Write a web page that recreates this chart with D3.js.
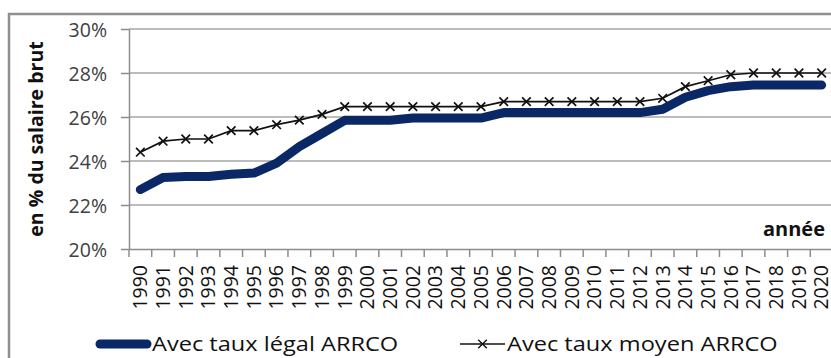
<!DOCTYPE html>
<html>
<head>
<meta charset="utf-8">
<script src="https://cdn.jsdelivr.net/npm/d3@7"></script>
<style>
  body { margin: 0; background: #fff; }
  svg { display: block; font-family: "Open Sans", sans-serif; }
</style>
</head>
<body>
<div id="chart"></div>
<script>
// Data (en % du salaire brut)
const years = ['1990','1991','1992','1993','1994','1995','1996','1997','1998','1999',
  '2000','2001','2002','2003','2004','2005','2006','2007','2008','2009',
  '2010','2011','2012','2013','2014','2015','2016','2017','2018','2019','2020'];
const tauxLegal = [22.7, 23.25, 23.3, 23.3, 23.4, 23.45, 23.9, 24.65, 25.25, 25.85,
  25.85, 25.85, 25.95, 25.95, 25.95, 25.95, 26.2, 26.2, 26.2, 26.2,
  26.2, 26.2, 26.2, 26.35, 26.9, 27.2, 27.38, 27.45, 27.45, 27.45, 27.45];
const tauxMoyen = [24.4, 24.9, 25.0, 25.0, 25.38, 25.38, 25.65, 25.86, 26.12, 26.47,
  26.47, 26.47, 26.47, 26.47, 26.47, 26.47, 26.7, 26.7, 26.7, 26.7,
  26.7, 26.7, 26.7, 26.85, 27.38, 27.65, 27.92, 28.0, 28.0, 28.0, 28.0];
const yTicks = [20, 22, 24, 26, 28, 30];
const seriesNames = ['Avec taux légal ARRCO', 'Avec taux moyen ARRCO'];

const W = 831, H = 358;
const plot = {left: 129, top: 29, bottom: 249, right: 833};
const blue = '#0a2766';

const svg = d3.select('#chart').append('svg')
    .attr('width', W)
    .attr('height', H);

// outer frame
svg.append('rect')
    .attr('x', 9).attr('y', 14)
    .attr('width', 900).attr('height', 400)
    .attr('fill', 'none')
    .attr('stroke', '#8f8f8f')
    .attr('stroke-width', 2.5);

//Scales
let xScale = d3.scaleBand()
    .domain(years)
    .range([plot.left, plot.right])
    .paddingInner(0).paddingOuter(0);

let yScale = d3.scaleLinear()
    .domain([20, 30])
    .range([plot.bottom, plot.top]);

let xc = function(d) { return xScale(d) + xScale.bandwidth() / 2; };

// gridlines
svg.append('g')
    .selectAll('line')
    .data(yTicks.slice(1))
    .enter().append('line')
    .attr('x1', plot.left).attr('x2', W)
    .attr('y1', d => yScale(d)).attr('y2', d => yScale(d))
    .attr('stroke', '#a6a6a6')
    .attr('stroke-width', 1.5);

// y axis
let yAxis = svg.append('g')
    .attr('transform', 'translate(' + plot.left + ',0)')
    .call(d3.axisLeft(yScale).tickValues(yTicks).tickSize(8).tickSizeOuter(0)
        .tickFormat(d => d + '%'));
yAxis.select('.domain').attr('stroke', '#8c8c8c').attr('stroke-width', 1.5);
yAxis.selectAll('.tick line').attr('stroke', '#8c8c8c').attr('stroke-width', 1.5);
yAxis.selectAll('.tick text')
    .attr('x', -22)
    .attr('dy', '0.36em')
    .attr('fill', '#404040')
    .style('font-size', '19.5px')
    .style('font-family', '"Open Sans", sans-serif');

// x axis (ticks between categories)
let xAxis = svg.append('g')
    .attr('transform', 'translate(0,' + plot.bottom + ')')
    .call(d3.axisBottom(xScale).tickSize(0).tickSizeOuter(0));
xAxis.select('.domain').attr('stroke', '#8c8c8c').attr('stroke-width', 1.5);
xAxis.selectAll('.tick text')
    .attr('transform', 'rotate(-90)')
    .attr('x', -16)
    .attr('y', 0)
    .attr('dy', '0.35em')
    .attr('text-anchor', 'end')
    .attr('fill', '#111')
    .style('font-size', '19.5px')
    .style('font-family', '"Open Sans", sans-serif');
xAxis.append('g')
    .selectAll('line')
    .data(years)
    .enter().append('line')
    .attr('x1', d => xScale(d)).attr('x2', d => xScale(d))
    .attr('y1', 0).attr('y2', 8)
    .attr('stroke', '#8c8c8c')
    .attr('stroke-width', 1.5);

// lines
let line = d3.line()
    .x(function(d, i) { return xc(years[i]); })
    .y(function(d) { return yScale(d); });

svg.append('path')
    .datum(tauxLegal)
    .attr('d', line)
    .attr('fill', 'none')
    .attr('stroke', blue)
    .attr('stroke-width', 9)
    .attr('stroke-linejoin', 'round')
    .attr('stroke-linecap', 'round');

svg.append('path')
    .datum(tauxMoyen)
    .attr('d', line)
    .attr('fill', 'none')
    .attr('stroke', '#111')
    .attr('stroke-width', 1.7);

let cross = d3.symbol().type(d3.symbolX).size(50);
svg.selectAll('.mark')
    .data(tauxMoyen)
    .enter().append('path')
    .attr('class', 'mark')
    .attr('transform', (d, i) => 'translate(' + xc(years[i]) + ',' + yScale(d) + ')')
    .attr('d', cross)
    .attr('fill', 'none')
    .attr('stroke', '#111')
    .attr('stroke-width', 1.7);

// axis titles
svg.append('text')
    .attr('transform', 'translate(43,139) rotate(-90)')
    .attr('text-anchor', 'middle')
    .attr('font-weight', 'bold')
    .attr('fill', '#111')
    .style('font-size', '19.5px')
    .text('en % du salaire brut');

svg.append('text')
    .attr('x', 825).attr('y', 236)
    .attr('text-anchor', 'end')
    .attr('font-weight', 'bold')
    .attr('fill', '#111')
    .style('font-size', '20px')
    .text('année');

// legend (text drawn a little wide, like the stretched original)
let legend = svg.append('g').attr('transform', 'translate(0,344)');
legend.append('line')
    .attr('x1', 100).attr('x2', 147)
    .attr('stroke', blue).attr('stroke-width', 9)
    .attr('stroke-linecap', 'round');
legend.append('text')
    .attr('transform', 'translate(152,0) scale(1.18,1)')
    .attr('dy', '0.35em')
    .attr('fill', '#111')
    .style('font-size', '20px')
    .text(seriesNames[0]);
legend.append('line')
    .attr('x1', 460).attr('x2', 505)
    .attr('stroke', '#111').attr('stroke-width', 1.7);
legend.append('path')
    .attr('transform', 'translate(482.5,0)')
    .attr('d', cross)
    .attr('fill', 'none')
    .attr('stroke', '#111').attr('stroke-width', 1.4);
legend.append('text')
    .attr('transform', 'translate(507,0) scale(1.18,1)')
    .attr('dy', '0.35em')
    .attr('fill', '#111')
    .style('font-size', '20px')
    .text(seriesNames[1]);
</script>
</body>
</html>
